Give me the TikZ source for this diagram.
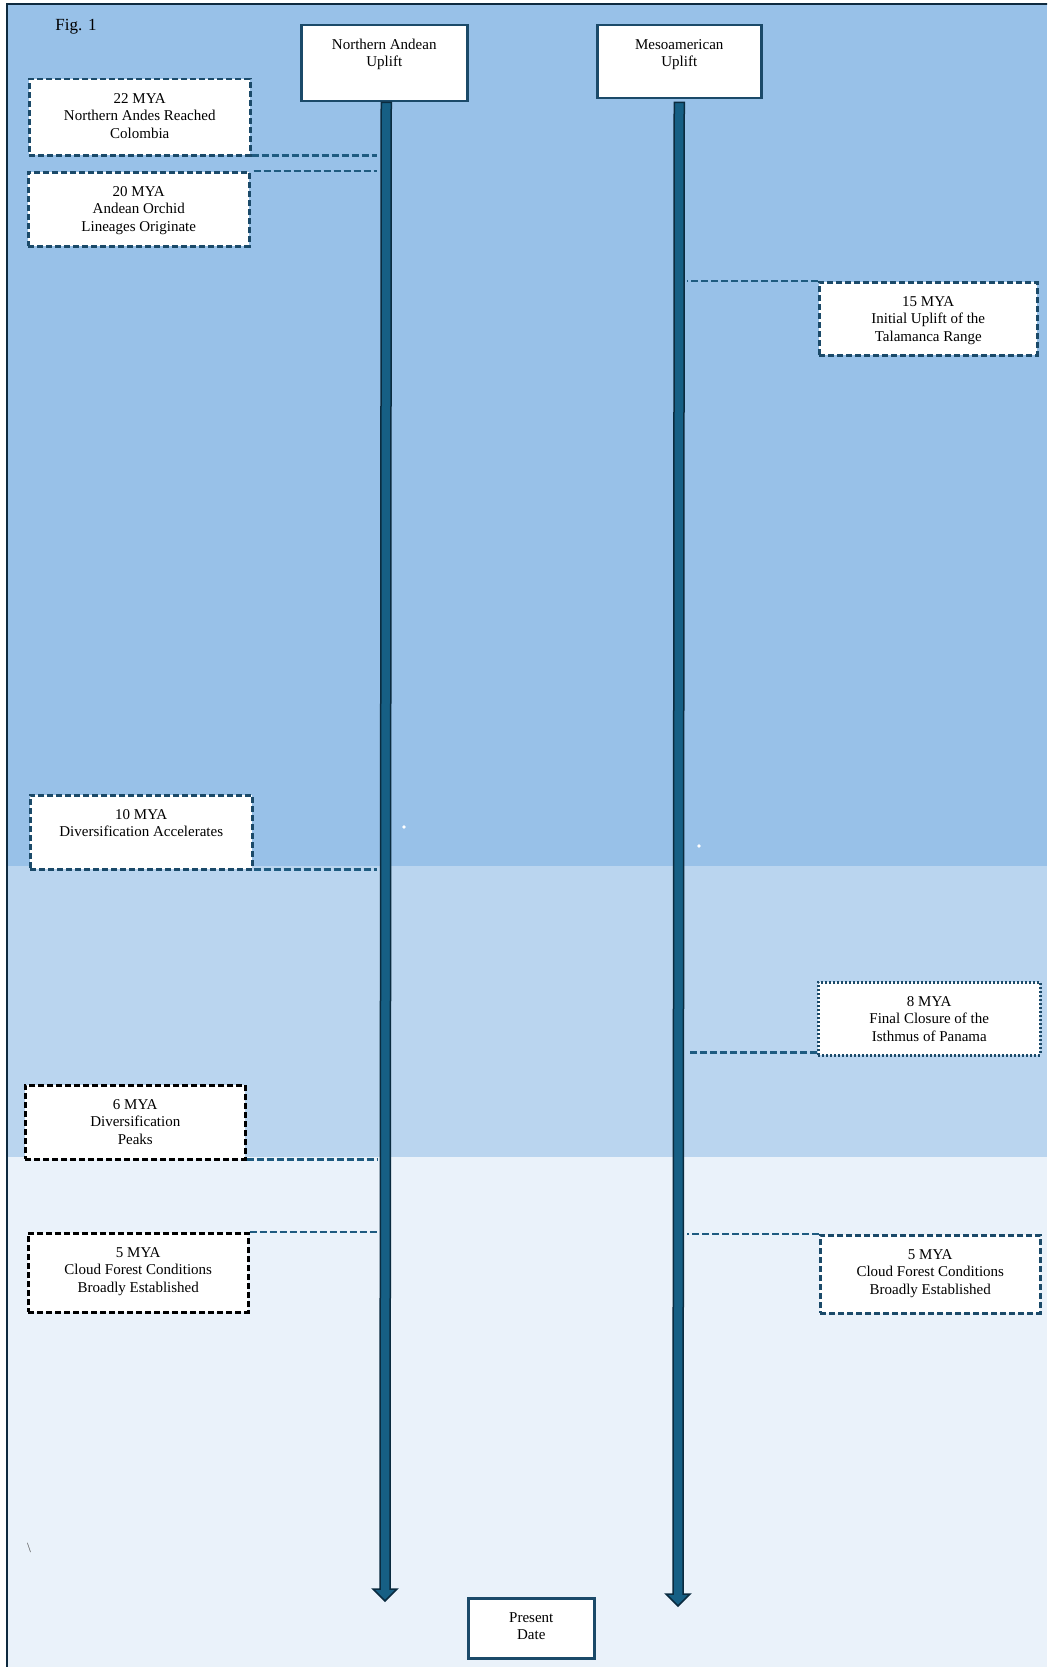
\documentclass[tikz,border=0pt]{standalone}
\usepackage{fontspec}
\setmainfont{Liberation Serif}
\usetikzlibrary{calc}
\definecolor{bandA}{HTML}{98C1E8}
\definecolor{bandB}{HTML}{BAD5EF}
\definecolor{bandC}{HTML}{EAF2FA}
\definecolor{frameedge}{HTML}{0E2A3F}
\definecolor{boxedge}{HTML}{1B4A69}
\definecolor{connblue}{HTML}{1E5B80}
\definecolor{barblue}{HTML}{165F84}
\definecolor{bardark}{HTML}{0A2B3F}
\tikzset{
  hdr/.style={draw=boxedge, line width=2.5pt, fill=white, inner sep=0pt, anchor=north west},
  evt/.style={draw=boxedge, line width=2.5pt, fill=white, inner sep=0pt, anchor=north west, dash pattern=on 6pt off 3pt},
  evtblack/.style={evt, draw=black},
  evtdot/.style={evt, dash pattern=on 2pt off 2pt},
  conn/.style={draw=connblue, line width=2.5pt, dash pattern=on 7pt off 3pt},
  bar/.style={fill=barblue, draw=bardark, line width=1.5pt, line join=miter},
}
\newcommand{\boxtxt}[3]{\parbox[t][#2][t]{#1}{\centering\fontsize{15pt}{17.5pt}\selectfont\rule{0pt}{24pt}#3\par}}
\begin{document}
\begin{tikzpicture}[x=1pt,y=-1pt]
\useasboundingbox (0,0) rectangle (1047,1667);
\clip (0,0) rectangle (1047,1667);
% background bands
\fill[bandA] (7,4) rectangle (1047,866);
\fill[bandB] (7,866) rectangle (1047,1157);
\fill[bandC] (7,1157) rectangle (1047,1667);
\draw[frameedge, line width=2pt] (7,4) rectangle (1070,1690);
% title
\node[font=\fontsize{17pt}{20pt}\selectfont] (fig) at (76,27) {Fig. 1};
% headers
\node[hdr] (na) at (300,24) {\boxtxt{166pt}{76pt}{Northern Andean\\Uplift}};
\node[hdr] (ma) at (596,24) {\boxtxt{164pt}{73pt}{Mesoamerican\\Uplift}};
\node[hdr] (pd) at (467,1597) {\boxtxt{126pt}{60pt}{Present\\Date}};
% bars
\coordinate (Ltop) at ($(na.south)+(2,0)$);
\coordinate (Ltip) at (385,1601);
\coordinate (Rtop) at ($(ma.south)+(0,3)$);
\coordinate (Rtip) at (678,1606);
\draw[bar] ($(Ltop)+(-5,0)$) -- ($(Ltip)+(-5,-12)$) -- ($(Ltip)+(-12,-12)$) -- (Ltip)
  -- ($(Ltip)+(12,-12)$) -- ($(Ltip)+(5,-12)$) -- ($(Ltop)+(5,0)$) -- cycle;
\draw[bar] ($(Rtop)+(-5,0)$) -- ($(Rtip)+(-5,-12)$) -- ($(Rtip)+(-12,-12)$) -- (Rtip)
  -- ($(Rtip)+(12,-12)$) -- ($(Rtip)+(5,-12)$) -- ($(Rtop)+(5,0)$) -- cycle;
\coordinate (Lx) at (377,0);
\coordinate (Rx) at (687,0);
% event boxes
\node[evt] (e22) at (28,78) {\boxtxt{221pt}{76pt}{22 MYA\\Northern Andes Reached\\Colombia}};
\node[evt] (e20) at (27,171) {\boxtxt{221pt}{74pt}{20 MYA\\Andean Orchid\\Lineages Originate}};
\node[evt] (e15) at (818,281) {\boxtxt{218pt}{73pt}{15 MYA\\Initial Uplift of the\\Talamanca Range}};
\node[evt] (e10) at (29,794) {\boxtxt{222pt}{74pt}{10 MYA\\Diversification Accelerates}};
\node[evtdot] (e8) at (817,981) {\boxtxt{222pt}{73pt}{8 MYA\\Final Closure of the\\Isthmus of Panama}};
\node[evtblack] (e6) at (24,1084) {\boxtxt{220pt}{74pt}{6 MYA\\Diversification\\Peaks}};
\node[evtblack] (e5l) at (27,1232) {\boxtxt{220pt}{79pt}{5 MYA\\Cloud Forest Conditions\\Broadly Established}};
\node[evt] (e5r) at (819,1234) {\boxtxt{220pt}{78pt}{5 MYA\\Cloud Forest Conditions\\Broadly Established}};
% connectors
\draw[conn] ([yshift=1pt]e22.south east) -- ([yshift=1pt]e22.south east -| Lx);
\draw[conn] ([xshift=3pt]e20.north east) -- (e20.north east -| Lx);
\draw[conn] (e15.north west) -- (e15.north west -| Rx);
\draw[conn] ([yshift=1pt]e10.south east) -- ([yshift=1pt]e10.south east -| Lx);
\draw[conn] ([yshift=4pt]e8.south west) -- ([yshift=4pt]e8.south west -| Rx);
\draw[conn] ([yshift=1pt]e6.south east) -- ([yshift=1pt]e6.south east -| Lx);
\draw[conn] (e5l.north east) -- (e5l.north east -| Lx);
\draw[conn] (e5r.north west) -- (e5r.north west -| Rx);
% small marks
\fill[white] (404,827) circle (1.8pt);
\fill[white] (699,846) circle (1.8pt);
\node[font=\fontsize{14pt}{16pt}\selectfont, text=black!65] (bs) at (29,1548) {\textbackslash};
\end{tikzpicture}
\end{document}
